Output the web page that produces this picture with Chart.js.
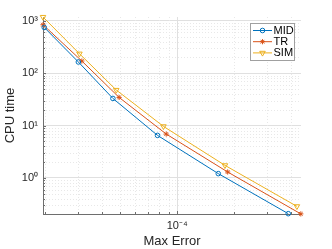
<!DOCTYPE html>
<html><head><meta charset="utf-8">
<script src="https://cdn.jsdelivr.net/npm/chart.js@4/dist/chart.umd.min.js"></script>
<style>html,body{margin:0;padding:0;background:#fff;overflow:hidden}</style>
</head><body>
<canvas id="c" width="332" height="249" style="width:332px;height:249px;display:block"></canvas>
<script>
// ---- data ----
const seriesNames = ['MID', 'TR', 'SIM'];
const midErr = [1.98e-5, 3.0e-5, 4.57e-5, 7.87e-5, 1.65e-4, 3.87e-4];
const midCpu = [748, 164, 33, 6.5, 1.21, 0.208];
const trErr  = [1.95e-5, 3.13e-5, 4.93e-5, 8.75e-5, 1.85e-4, 4.51e-4];
const trCpu  = [843, 171, 34.5, 6.9, 1.30, 0.206];
const simErr = [1.95e-5, 3.04e-5, 4.76e-5, 8.46e-5, 1.79e-4, 4.30e-4];
const simCpu = [1183, 236, 47.8, 9.66, 1.74, 0.287];
const xMajorTicks = [1e-4];
const xTickLabels = ['10\u207B\u2074'];
const xMinorTicks = [2e-5, 3e-5, 4e-5, 5e-5, 6e-5, 7e-5, 8e-5, 9e-5, 2e-4, 3e-4, 4e-4];
const yMajorTicks = [1, 10, 100, 1000];
const yTickLabels = ['10\u2070', '10\u00B9', '10\u00B2', '10\u00B3'];
const yMinorTicks = [0.3,0.4,0.5,0.6,0.7,0.8,0.9,2,3,4,5,6,7,8,9,20,30,40,50,60,70,80,90,200,300,400,500,600,700,800,900];
const xRange = [1.95e-5, 4.52e-4];
const yRange = [0.205, 1185];

const FONT = "'Liberation Sans', Arial, Helvetica, sans-serif";
const TXT = '#262626';
const AXIS = '#6e6e6e';
const colors = ['#0072BD', '#D95319', '#EDB120'];

function same(a, b) { return Math.abs(Math.log10(a) - Math.log10(b)) < 1e-6; }
function majorIdx(list, v) { return list.findIndex(m => same(m, v)); }
function pts(xs, ys) { return xs.map((x, i) => ({x: x, y: ys[i]})); }

const decor = {
  id: 'decor',
  beforeDatasetsDraw(chart) {
    const {ctx, chartArea: a, scales: {x, y}} = chart;
    ctx.save();
    ctx.strokeStyle = '#e8e8e8';
    ctx.lineWidth = 1;
    ctx.setLineDash([1, 2]);
    xMinorTicks.forEach(v => {
      const px = Math.round(x.getPixelForValue(v)) + 0.5;
      ctx.beginPath(); ctx.moveTo(px, a.top); ctx.lineTo(px, a.bottom); ctx.stroke();
    });
    yMinorTicks.forEach(v => {
      const py = Math.round(y.getPixelForValue(v)) + 0.5;
      if (py < a.top || py > a.bottom) return;
      ctx.beginPath(); ctx.moveTo(a.left, py); ctx.lineTo(a.right, py); ctx.stroke();
    });
    ctx.setLineDash([]);
    ctx.strokeStyle = AXIS;
    const tick = (v, len, axis) => {
      if (axis === 'x') {
        const px = Math.round(x.getPixelForValue(v)) + 0.5;
        ctx.beginPath(); ctx.moveTo(px, a.bottom); ctx.lineTo(px, a.bottom - len); ctx.stroke();
      } else {
        const py = Math.round(y.getPixelForValue(v)) + 0.5;
        if (py < a.top || py > a.bottom) return;
        ctx.beginPath(); ctx.moveTo(a.left, py); ctx.lineTo(a.left + len, py); ctx.stroke();
      }
    };
    xMinorTicks.forEach(v => tick(v, 2, 'x'));
    xMajorTicks.forEach(v => tick(v, 3, 'x'));
    yMinorTicks.forEach(v => tick(v, 2, 'y'));
    yMajorTicks.forEach(v => tick(v, 3, 'y'));
    ctx.restore();
  },
  afterDraw(chart) {
    const ctx = chart.ctx;
    const bx = 250.5, by = 23.5, bw = 44, bh = 37;
    ctx.save();
    ctx.fillStyle = '#fff';
    ctx.fillRect(bx, by, bw, bh);
    ctx.strokeStyle = '#a0a0a0';
    ctx.lineWidth = 1;
    ctx.strokeRect(bx, by, bw, bh);
    chart.data.datasets.forEach((ds, i) => {
      const yy = 30.5 + i * 11.2;
      ctx.strokeStyle = ds.borderColor;
      ctx.lineWidth = 1;
      ctx.beginPath(); ctx.moveTo(253, yy); ctx.lineTo(272, yy); ctx.stroke();
      ctx.fillStyle = ds.pointBackgroundColor;
      ctx.strokeStyle = ds.pointBorderColor;
      Chart.helpers.drawPoint(ctx, {
        pointStyle: ds.pointStyle, rotation: ds.pointRotation || 0,
        radius: ds.pointRadius, borderWidth: 1
      }, 262.5, yy);
      ctx.fillStyle = '#000';
      ctx.font = '11px ' + FONT;
      ctx.textBaseline = 'middle';
      ctx.textAlign = 'left';
      ctx.fillText(ds.label, 273.5, yy + 0.5);
    });
    ctx.restore();
  }
};

function mk(i, xs, ys, style, r, rot) {
  return {
    label: seriesNames[i], data: pts(xs, ys),
    borderColor: colors[i], backgroundColor: colors[i],
    pointBorderColor: colors[i],
    pointBackgroundColor: style === 'star' ? colors[i] : 'rgba(255,255,255,0)',
    pointStyle: style, pointRadius: r, pointRotation: rot || 0,
    pointBorderWidth: 1, borderWidth: 1, tension: 0, clip: false
  };
}

new Chart(document.getElementById('c'), {
  type: 'line',
  data: {
    datasets: [
      mk(0, midErr, midCpu, 'circle', 2.3),
      mk(1, trErr, trCpu, 'star', 2.6),
      mk(2, simErr, simCpu, 'triangle', 3.2, 180)
    ]
  },
  options: {
    responsive: false, animation: false, devicePixelRatio: 1,
    layout: {padding: {top: 17, right: 31, left: 0, bottom: 0}},
    plugins: {legend: {display: false}, tooltip: {enabled: false}},
    scales: {
      x: {
        type: 'logarithmic', min: xRange[0], max: xRange[1],
        afterBuildTicks: s => { s.ticks = xMajorTicks.map(v => ({value: v, major: true})); },
        afterFit: s => { s.height = 35; },
        grid: {color: '#e0e0e0', drawTicks: false, tickLength: 0},
        border: {display: true, color: AXIS, width: 1},
        ticks: {
          autoSkip: false, maxRotation: 0, padding: 5, color: TXT,
          font: {family: FONT, size: 11},
          callback: v => { const k = majorIdx(xMajorTicks, v); return k >= 0 ? xTickLabels[k] : ''; }
        },
        title: {display: true, text: 'Max Error', color: TXT, font: {family: FONT, size: 13}, padding: {top: 0, bottom: 0}}
      },
      y: {
        type: 'logarithmic', min: yRange[0], max: yRange[1],
        afterBuildTicks: s => { s.ticks = yMajorTicks.map(v => ({value: v, major: true})); },
        afterFit: s => { s.width = 43; },
        grid: {color: '#e0e0e0', drawTicks: false, tickLength: 0},
        border: {display: true, color: AXIS, width: 1},
        ticks: {
          autoSkip: false, padding: 5, color: TXT,
          font: {family: FONT, size: 11},
          callback: v => { const k = majorIdx(yMajorTicks, v); return k >= 0 ? yTickLabels[k] : ''; }
        },
        title: {display: true, text: 'CPU time', color: TXT, font: {family: FONT, size: 13}, padding: {top: 3, bottom: 0}}
      }
    }
  },
  plugins: [decor]
});
</script>
</body></html>
